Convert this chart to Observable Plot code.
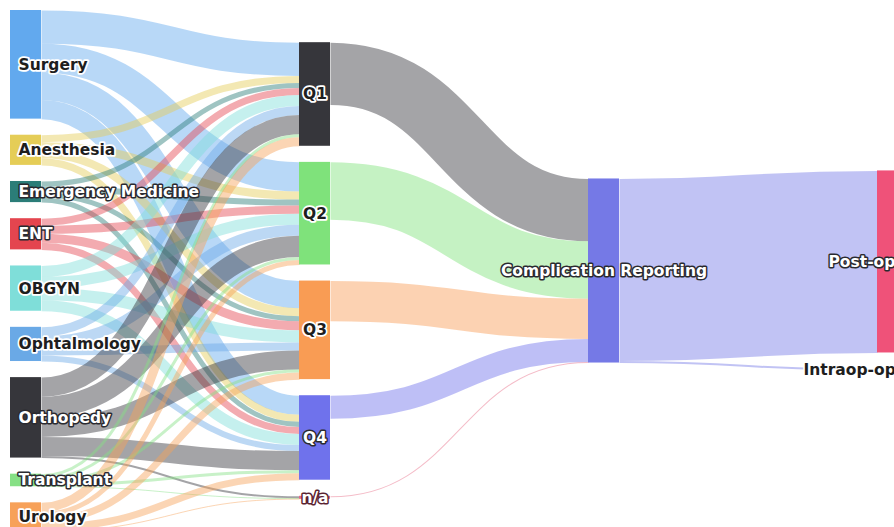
<!DOCTYPE html>
<html>
<head>
<meta charset="utf-8">
<script src="https://cdn.jsdelivr.net/npm/d3@7"></script>
<script src="https://cdn.jsdelivr.net/npm/@observablehq/plot@0.6"></script>
<style>
  html, body { margin: 0; padding: 0; background: #fff; overflow: hidden; }
  #chart svg { display: block; }
</style>
</head>
<body>
<div id="chart"></div>
<script>
// ---- Data ----
const departments = ["Surgery", "Anesthesia", "Emergency Medicine", "ENT", "OBGYN", "Ophtalmology", "Orthopedy", "Transplant", "Urology"];
const quarters = ["Q1", "Q2", "Q3", "Q4", "n/a"];
const reporting = ["Complication Reporting"];
const outcomes = ["Post-op", "Intraop-op"];

// flows department -> [Q1, Q2, Q3, Q4, n/a]
const surgeryFlows      = [33, 29, 27, 19, 0];
const anesthesiaFlows   = [7, 8, 8, 7, 0];
const emergencyFlows    = [5, 6, 5, 5, 0];
const entFlows          = [7, 8, 9, 7, 0];
const obgynFlows        = [11, 11, 12, 11, 0];
const ophtalmologyFlows = [9, 11, 8, 6, 0];
const orthopedyFlows    = [19, 21, 19, 19, 2];
const transplantFlows   = [3, 3, 3, 3, 0.5];
const urologyFlows      = [9, 5, 7, 7, 0.5];
const departmentFlows = [surgeryFlows, anesthesiaFlows, emergencyFlows, entFlows, obgynFlows,
                         ophtalmologyFlows, orthopedyFlows, transplantFlows, urologyFlows];

// quarter -> Complication Reporting
const quarterToReporting = [62, 57, 40, 23, 1];
// Complication Reporting -> outcomes
const reportingToOutcome = [181, 2];

// ---- Styles ----
const nodeColor = {
  "Surgery": "#62a9ee", "Anesthesia": "#e5cd57", "Emergency Medicine": "#2b7d78", "ENT": "#e4454f",
  "OBGYN": "#7fded9", "Ophtalmology": "#6aa9e6", "Orthopedy": "#36363b", "Transplant": "#86e085",
  "Urology": "#f7a159", "Q1": "#36363b", "Q2": "#7fe27b", "Q3": "#f99c54", "Q4": "#6f72ec",
  "n/a": "#e76a86", "Complication Reporting": "#7579e6", "Post-op": "#ef5279", "Intraop-op": "#b0b4d8"
};
const outlinedLabels = new Set(["Emergency Medicine", "ENT", "Orthopedy", "Transplant", "Q4", "n/a", "Complication Reporting", "Post-op"]);
const lastColumnLabelShift = {"Post-op": -49, "Intraop-op": -74};

// ---- Layout (computed from the data) ----
const columns = [departments, quarters, reporting, outcomes];
const links = [];
departments.forEach((d, i) => quarters.forEach((q, j) => {
  const v = departmentFlows[i][j];
  if (v > 0) links.push({source: d, target: q, value: v});
}));
quarters.forEach((q, j) => links.push({source: q, target: reporting[0], value: quarterToReporting[j]}));
outcomes.forEach((o, k) => links.push({source: reporting[0], target: o, value: reportingToOutcome[k]}));

const nodes = new Map();
columns.forEach((col, layer) => col.forEach((name) =>
  nodes.set(name, {name, layer, in: 0, out: 0, sourceLinks: [], targetLinks: []})));
for (const l of links) {
  const s = nodes.get(l.source), t = nodes.get(l.target);
  s.out += l.value; t.in += l.value;
  s.sourceLinks.push(l); t.targetLinks.push(l);
}
for (const n of nodes.values()) n.value = Math.max(n.in, n.out);

const nodePadding = 16;
const colTotals = columns.map(col => d3.sum(col, n => nodes.get(n).value) + (col.length - 1) * nodePadding);
const yMax = d3.max(colTotals);
columns.forEach((col, c) => {
  let y = (yMax - colTotals[c]) / 2;
  for (const name of col) {
    const n = nodes.get(name);
    n.y0 = y; n.y1 = y + n.value; y = n.y1 + nodePadding;
  }
});
for (const n of nodes.values()) {
  let y = n.y0;
  n.sourceLinks.sort((a, b) => nodes.get(a.target).y0 - nodes.get(b.target).y0);
  for (const l of n.sourceLinks) { l.sy = y + l.value / 2; y += l.value; }
  y = n.y0;
  n.targetLinks.sort((a, b) => nodes.get(a.source).y0 - nodes.get(b.source).y0);
  for (const l of n.targetLinks) { l.ty = y + l.value / 2; y += l.value; }
}
const nodeList = Array.from(nodes.values());

// ---- Plot ----
// The diagram extends a little past the bottom and right edges of the picture (as in the reference crop).
const W = 894, H = 527, marginT = 10, frameBottom = 531;
const xRange = [10, 877];
const colStep = (xRange[1] - xRange[0]) / 3;
const nodeW = 31 / colStep;
const ky = (frameBottom - marginT) / yMax;

const labelX = d => d.layer === 0 ? d.layer + 8 / colStep
  : d.layer === 3 ? d.layer + lastColumnLabelShift[d.name] / colStep
  : d.layer + nodeW / 2;
const isStart = d => d.layer === 0 || d.layer === 3;

function labels(subset, outlined, anchor) {
  return Plot.text(subset, {
    x: labelX, y: d => (d.y0 + d.y1) / 2, text: "name", textAnchor: anchor,
    fontSize: 15.5, fontWeight: "bold", fontFamily: "DejaVu Sans",
    paintOrder: "stroke", strokeLinejoin: "round",
    fill: outlined ? "white" : "#1e1e1e",
    stroke: outlined ? (d => d.name === "n/a" ? "#5a2331" : "#2a2a30") : "white",
    strokeWidth: outlined ? 3 : 3.5
  });
}
const textMarks = [];
for (const outlined of [false, true]) {
  const group = nodeList.filter(d => outlinedLabels.has(d.name) === outlined);
  textMarks.push(labels(group.filter(isStart), outlined, "start"));
  textMarks.push(labels(group.filter(d => !isStart(d)), outlined, "middle"));
}

const chart = Plot.plot({
  width: W, height: H,
  marginTop: marginT, marginBottom: 0, marginLeft: 0, marginRight: 0,
  x: {domain: [0, 3], range: xRange, axis: null},
  y: {domain: [0, yMax], range: [marginT, frameBottom], axis: null},
  color: {type: "identity"},
  style: {background: "#fff", overflow: "hidden"},
  marks: [
    Plot.link(links, {
      x1: d => nodes.get(d.source).layer + nodeW, y1: "sy",
      x2: d => nodes.get(d.target).layer, y2: "ty",
      curve: "bump-x",
      stroke: d => nodeColor[d.source], strokeOpacity: 0.45,
      strokeWidth: d => Math.max(1, d.value * ky)
    }),
    Plot.rect(nodeList, {
      x1: "layer", x2: d => d.layer + nodeW, y1: "y0", y2: d => Math.max(d.y1, d.y0 + 1.5),
      fill: d => nodeColor[d.name]
    }),
    ...textMarks
  ]
});

document.getElementById("chart").appendChild(chart);
</script>
</body>
</html>
